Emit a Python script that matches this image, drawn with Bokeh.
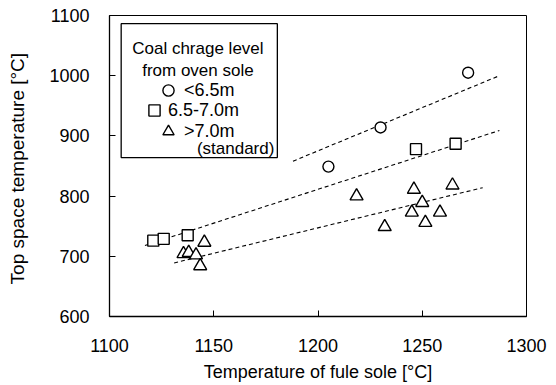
from bokeh.plotting import figure
from bokeh.models import Legend, LegendItem, Label, BoxAnnotation, FixedTicker, Range1d
from bokeh.embed import file_html
from bokeh.resources import INLINE

# ---- data ----
circle_x = [1205, 1230, 1272]
circle_y = [849, 914, 1005]
square_x = [1121, 1126, 1137.5, 1247, 1266]
square_y = [726, 729, 735, 878, 887]
tri_x = [1135.5, 1138, 1141.5, 1143.5, 1145.5, 1218.5, 1232, 1246, 1250, 1245, 1251.5, 1258.5, 1264.5]
tri_y = [704, 706, 702, 684, 723, 800, 749, 811, 789, 773, 756, 773, 818]

fit_circle_x = [1188, 1287]
fit_circle_y = [858, 1000]
fit_square_x = [1117, 1287]
fit_square_y = [718, 909]
fit_tri_x = [1131, 1279]
fit_tri_y = [689, 814]

x_ticks = [1100, 1150, 1200, 1250, 1300]
y_ticks = [600, 700, 800, 900, 1000, 1100]

FONT = "Liberation Sans"

p = figure(width=556, height=385, output_backend="svg", toolbar_location=None,
           x_range=Range1d(1100, 1300), y_range=Range1d(600, 1100),
           min_border_left=109, min_border_right=30, min_border_top=15, min_border_bottom=69)
p.xgrid.visible = False
p.ygrid.visible = False
p.outline_line_color = "black"
p.outline_line_width = 1
p.background_fill_color = "white"
p.border_fill_color = "white"

for ax, ticks in ((p.xaxis, x_ticks), (p.yaxis, y_ticks)):
    ax.ticker = FixedTicker(ticks=ticks)
    ax.major_tick_in = 6
    ax.major_tick_out = 0
    ax.minor_tick_line_color = None
    ax.axis_line_color = "black"
    ax.axis_line_width = 1.3
    ax.major_tick_line_color = "black"
    ax.major_label_text_font = FONT
    ax.major_label_text_font_size = "18px"
    ax.major_label_text_color = "black"
    ax.axis_label_text_font = FONT
    ax.axis_label_text_font_style = "normal"
    ax.axis_label_text_color = "black"

p.xaxis.axis_label_text_font_size = "18px"
p.yaxis.axis_label_text_font_size = "19px"
p.xaxis.major_label_standoff = 22
p.xaxis.axis_label_standoff = 7
p.yaxis.major_label_standoff = 20
p.yaxis.axis_label_standoff = 18
p.xaxis.axis_label = "Temperature of fule sole [°C]"
p.yaxis.axis_label = "Top space temperature  [°C]"

dash = "4 3"
p.line(fit_circle_x, fit_circle_y, line_color="black", line_dash=dash, line_width=1.1)
p.line(fit_square_x, fit_square_y, line_color="black", line_dash=dash, line_width=1.1)
p.line(fit_tri_x, fit_tri_y, line_color="black", line_dash=dash, line_width=1.1)

rc = p.scatter(circle_x, circle_y, marker="circle", size=11, fill_color="white",
               line_color="black", line_width=1.4)
rs = p.scatter(square_x, square_y, marker="square", size=11, fill_color="white",
               line_color="black", line_width=1.4)
rt = p.scatter(tri_x, tri_y, marker="triangle", size=13, fill_color="white",
               line_color="black", line_width=1.4)

# legend frame and texts
p.add_layout(BoxAnnotation(left=1105.6, right=1180.5, top=1086.5, bottom=864,
                           fill_alpha=0, line_color="black", line_alpha=1, line_width=1.3))
p.add_layout(Label(x=1142.4, y=1045, text="Coal chrage level", text_align="center",
                   text_baseline="alphabetic", text_font=FONT, text_font_size="17px",
                   text_color="black"))
p.add_layout(Label(x=1142.4, y=1008.5, text="from oven sole", text_align="center",
                   text_baseline="alphabetic", text_font=FONT, text_font_size="17px",
                   text_color="black"))
p.add_layout(Label(x=1160.5, y=879, text="(standard)", text_align="center",
                   text_baseline="alphabetic", text_font=FONT, text_font_size="17px",
                   text_color="black"))

def one_legend(label, renderer, loc, standoff):
    lg = Legend(items=[LegendItem(label=label, renderers=[renderer])], location=loc,
                border_line_color=None, background_fill_alpha=0, padding=0, margin=0,
                glyph_width=28, glyph_height=28, label_height=28, label_standoff=standoff,
                label_text_font=FONT, label_text_font_size="18px", label_text_color="black")
    p.add_layout(lg)

one_legend("<6.5m", rc, (45, 212), 2)
one_legend("6.5-7.0m", rs, (31, 192), -6)
one_legend(">7.0m", rt, (45, 171), 2)

open("out.html", "w").write(file_html(p, INLINE))
